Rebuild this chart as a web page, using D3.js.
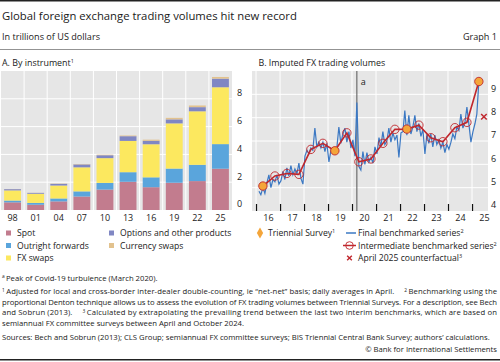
<!DOCTYPE html>
<html>
<head>
<meta charset="utf-8">
<style>
  body { margin: 0; background: #fff; }
  svg { display: block; font-family: 'Open Sans', sans-serif; fill: #1a1a1a; }
  .tick text { font-size: 9px; fill: #222; font-family: 'Open Sans', sans-serif; }
  .domain { display: none; }
  .grid line { stroke: #fff; stroke-width: 1; }
  .legend text { font-size: 8.6px; }
  .foot { font-size: 7.7px; }
</style>
</head>
<body>
<svg width="500" height="362"></svg>
<script src="https://d3js.org/d3.v7.min.js"></script>
<script>
// ---- panel A data: Triennial Survey, trillions of USD
const years = ["98", "01", "04", "07", "10", "13", "16", "19", "22", "25"];
const spot = [0.55, 0.38, 0.62, 0.97, 1.47, 2.03, 1.64, 1.96, 2.08, 2.97];
const outright = [0.13, 0.13, 0.21, 0.37, 0.48, 0.69, 0.71, 1.02, 1.17, 1.77];
const fxSwaps = [0.73, 0.66, 0.93, 1.73, 1.78, 2.25, 2.38, 3.25, 3.85, 4.09];
const options = [0.09, 0.06, 0.12, 0.21, 0.21, 0.34, 0.25, 0.29, 0.30, 0.62];
const currencySwaps = [0.01, 0.01, 0.02, 0.03, 0.04, 0.05, 0.08, 0.11, 0.12, 0.12];
const yTicksA = [0, 2, 4, 6, 8];

// ---- panel B data
// final benchmarked series, monthly from Feb 2016 to Apr 2025
const finalStart = [2016, 1];
const finalSeries = [
  4.85, 4.70, 5.00, 4.75, 5.20, 5.55, 5.00, 5.35, 5.25, 5.55, 5.15,
  5.30, 5.70, 5.35, 5.85, 5.50, 5.95, 5.55, 5.80, 5.60, 6.05, 5.40, 5.15,
  6.35, 6.60, 6.45, 6.70, 6.60, 7.55, 6.75, 6.95, 6.70, 6.95, 6.55, 6.90,
  6.10, 6.60, 6.50, 6.45, 6.70, 7.60, 6.90, 7.30, 7.55, 6.95, 7.40, 6.70,
  7.05, 6.35, 8.65, 5.90, 5.75, 6.55, 6.00, 6.50, 6.10, 6.30, 6.05, 6.75,
  6.45, 7.15, 6.75, 7.40, 6.85, 7.00, 7.55, 6.95, 7.35, 7.05, 7.25, 6.30,
  7.35, 7.40, 8.30, 7.25, 8.10, 7.30, 7.60, 8.10, 7.40, 7.75, 7.20, 7.50,
  6.45, 7.30, 6.90, 7.30, 6.75, 7.25, 6.85, 7.05, 6.70, 6.95, 6.50, 6.85,
  6.65, 6.95, 7.30, 7.10, 7.60, 7.45, 8.15, 7.55, 7.80, 8.45, 7.70, 6.95,
  7.40, 7.75, 8.15, 9.55
];
// intermediate benchmarked series, April and October from Apr 2016 to Apr 2025
const interimStart = [2016, 3];
const interimSeries = [5.07, 5.50, 5.61, 5.57, 6.64, 6.90, 6.58, 7.35, 6.11, 6.23,
  6.90, 7.50, 7.51, 7.68, 7.14, 6.97, 7.57, 7.80, 9.55];
const triennialYears = [2016, 2019, 2022, 2025];
const triennialValues = [5.07, 6.58, 7.51, 9.55];
const counterfactual = { date: new Date(2025, 6, 1), value: 8.04 };
const covidDate = new Date(2020, 2, 15);
const yTicksB = [4, 5, 6, 7, 8, 9];
const xYearsB = d3.range(2016, 2026);

const svg = d3.select("svg");

// ---- header
svg.append("rect").attr("x", 0).attr("y", 0).attr("width", 500).attr("height", 1.5).attr("fill", "#222");
svg.append("text").attr("x", 2).attr("y", 20).style("font-size", "11.3px")
  .text("Global foreign exchange trading volumes hit new record");
svg.append("text").attr("x", 2).attr("y", 40).style("font-size", "9.1px").text("In trillions of US dollars");
svg.append("text").attr("x", 497).attr("y", 40).attr("text-anchor", "end").style("font-size", "9.1px").text("Graph 1");
svg.append("line").attr("x1", 0).attr("x2", 500).attr("y1", 49.5).attr("y2", 49.5)
  .style("stroke", "#777").style("stroke-width", 0.8);

let tA = svg.append("text").attr("x", 2).attr("y", 66).style("font-size", "8.9px");
tA.append("tspan").text("A. By instrument");
tA.append("tspan").attr("dy", -3).style("font-size", "5.5px").text("1");
svg.append("text").attr("x", 258.5).attr("y", 66).style("font-size", "8.9px").text("B. Imputed FX trading volumes");

// ================= panel A
const pa = { left: 1, right: 232, top: 71, bottom: 210 };
const xA = d3.scaleBand().domain(years).range([pa.left, pa.right]).paddingInner(0.27).paddingOuter(0.135);
const yA = d3.scaleLinear().domain([0, 10]).range([pa.bottom, pa.top]);

svg.append("rect").attr("x", pa.left).attr("y", pa.top).attr("width", pa.right - pa.left)
  .attr("height", pa.bottom - pa.top).attr("fill", "#e6e6e6");

let gridA = svg.append("g").attr("class", "grid");
gridA.selectAll(".h").data(yTicksA.slice(1)).join("line")
  .attr("x1", pa.left).attr("x2", pa.right).attr("y1", d => yA(d)).attr("y2", d => yA(d));
gridA.selectAll(".v").data(years.slice(1)).join("line")
  .attr("x1", d => xA(d) - xA.step() * 0.135).attr("x2", d => xA(d) - xA.step() * 0.135)
  .attr("y1", pa.top).attr("y2", pa.bottom);

const keysA = ["spot", "outright", "fxSwaps", "options", "currencySwaps"];
const colorsA = {
  spot: "#c27c8e", outright: "#5aa5dc", fxSwaps: "#fce85f",
  options: "#8087c3", currencySwaps: "#e2c28e"
};
const tableA = years.map((y, i) => ({
  year: y, spot: spot[i], outright: outright[i], fxSwaps: fxSwaps[i],
  options: options[i], currencySwaps: currencySwaps[i]
}));
const stacked = d3.stack().keys(keysA)(tableA);

svg.append("g").selectAll("g").data(stacked).join("g")
  .attr("fill", d => colorsA[d.key])
  .selectAll("rect").data(d => d).join("rect")
  .attr("x", d => xA(d.data.year))
  .attr("width", xA.bandwidth())
  .attr("y", d => yA(d[1]))
  .attr("height", d => yA(d[0]) - yA(d[1]));

svg.append("g").attr("transform", `translate(0,${pa.bottom})`)
  .call(d3.axisBottom(xA).tickSize(0).tickPadding(5));

svg.append("g").attr("transform", `translate(${pa.right},0)`)
  .call(d3.axisRight(yA).tickValues(yTicksA).tickFormat(d3.format("d")).tickSize(0).tickPadding(5))
  .selectAll("text").attr("dy", "-0.35em");

// legend A
const legA = svg.append("g").attr("class", "legend");
const itemsA = [
  ["spot", "Spot", 6, 233], ["outright", "Outright forwards", 6, 245.5], ["fxSwaps", "FX swaps", 6, 258],
  ["options", "Options and other products", 109, 233], ["currencySwaps", "Currency swaps", 109, 245.5]
];
itemsA.forEach(([k, label, x, y]) => {
  legA.append("rect").attr("x", x).attr("y", y - 2.5).attr("width", 5).attr("height", 5).attr("fill", colorsA[k]);
  legA.append("text").attr("x", x + 11).attr("y", y + 3).text(label);
});

// ================= panel B
const pb = { left: 252, right: 488, top: 71, bottom: 211 };
const xB = d3.scaleTime().domain([new Date(2015, 10, 1), new Date(2025, 8, 1)]).range([pb.left, pb.right]);
const yB = d3.scaleLinear().domain([4, 10]).range([pb.bottom, pb.top]);

svg.append("rect").attr("x", pb.left).attr("y", pb.top).attr("width", pb.right - pb.left)
  .attr("height", pb.bottom - pb.top).attr("fill", "#e6e6e6");

let gridB = svg.append("g").attr("class", "grid");
gridB.selectAll(".h").data(yTicksB.slice(1)).join("line")
  .attr("x1", pb.left).attr("x2", pb.right).attr("y1", d => yB(d)).attr("y2", d => yB(d));
gridB.selectAll(".v").data(xYearsB).join("line")
  .attr("x1", d => xB(new Date(d, 0, 1))).attr("x2", d => xB(new Date(d, 0, 1)))
  .attr("y1", pb.top).attr("y2", pb.bottom);

// year boundary ticks
svg.append("g").attr("transform", `translate(0,${pb.bottom})`)
  .call(d3.axisBottom(xB).tickValues(xYearsB.map(d => new Date(d, 0, 1))).tickSizeInner(-7).tickSizeOuter(0).tickFormat(""))
  .selectAll("line").style("stroke", "#111").style("stroke-width", 1.2);
// year labels at mid-year
svg.append("g").attr("transform", `translate(0,${pb.bottom})`)
  .call(d3.axisBottom(xB).tickValues(xYearsB.map(d => new Date(d, 6, 1))).tickSize(0).tickPadding(4)
    .tickFormat(d3.timeFormat("%y")));

svg.append("g").attr("transform", `translate(${pb.right},0)`)
  .call(d3.axisRight(yB).tickValues(yTicksB).tickFormat(d3.format("d")).tickSize(0).tickPadding(3))
  .selectAll("text").attr("dy", "-0.35em");

// covid line
svg.append("line").attr("x1", xB(covidDate)).attr("x2", xB(covidDate))
  .attr("y1", pb.top).attr("y2", pb.bottom).style("stroke", "#555").style("stroke-width", 1);
svg.append("text").attr("x", xB(covidDate) + 4).attr("y", 85).style("font-size", "9px").text("a");

const finalData = finalSeries.map((v, i) => ({ date: new Date(finalStart[0], finalStart[1] + i, 15), value: v }));
const interimData = interimSeries.map((v, i) => ({ date: new Date(interimStart[0], interimStart[1] + 6 * i, 15), value: v }));
const triennialData = triennialYears.map((y, i) => ({ date: new Date(y, 3, 15), value: triennialValues[i] }));

const line = d3.line().x(d => xB(d.date)).y(d => yB(d.value));

const blue = "#3b78c3", red = "#c0272d", orange = "#f4a53a";

svg.append("path").attr("d", line(finalData)).attr("fill", "none")
  .style("stroke", blue).style("stroke-width", 1.2);
svg.append("path").attr("d", line(interimData)).attr("fill", "none")
  .style("stroke", red).style("stroke-width", 1.6);
svg.append("g").selectAll("circle").data(triennialData).join("circle")
  .attr("cx", d => xB(d.date)).attr("cy", d => yB(d.value)).attr("r", 4.2).attr("fill", orange);
svg.append("g").selectAll("circle").data(interimData).join("circle")
  .attr("cx", d => xB(d.date)).attr("cy", d => yB(d.value)).attr("r", 4.2)
  .attr("fill", "none").style("stroke", red).style("stroke-width", 0.9);
svg.append("path").attr("d", d3.symbol(d3.symbolX, 22)())
  .attr("transform", `translate(${xB(counterfactual.date)},${yB(counterfactual.value)})`)
  .attr("fill", "none").style("stroke", red).style("stroke-width", 1.5);

// legend B
const legB = svg.append("g").attr("class", "legend");
legB.append("path").attr("d", d3.symbol(d3.symbolDiamond, 34)()).attr("transform", "translate(260,233)").attr("fill", orange);
let l1 = legB.append("text").attr("x", 268).attr("y", 236);
l1.append("tspan").text("Triennial Survey");
l1.append("tspan").attr("dy", -3).style("font-size", "5.5px").text("1");
legB.append("line").attr("x1", 346).attr("x2", 356).attr("y1", 233).attr("y2", 233).style("stroke", blue).style("stroke-width", 1.5);
let l2 = legB.append("text").attr("x", 358).attr("y", 236);
l2.append("tspan").text("Final benchmarked series");
l2.append("tspan").attr("dy", -3).style("font-size", "5.5px").text("2");
legB.append("line").attr("x1", 343).attr("x2", 356).attr("y1", 245.5).attr("y2", 245.5).style("stroke", red).style("stroke-width", 1.5);
legB.append("circle").attr("cx", 349.5).attr("cy", 245.5).attr("r", 3.8).attr("fill", "none").style("stroke", red).style("stroke-width", 0.9);
let l3 = legB.append("text").attr("x", 358).attr("y", 248.5);
l3.append("tspan").text("Intermediate benchmarked series");
l3.append("tspan").attr("dy", -3).style("font-size", "5.5px").text("2");
legB.append("path").attr("d", d3.symbol(d3.symbolX, 16)()).attr("transform", "translate(349.5,258)")
  .attr("fill", "none").style("stroke", red).style("stroke-width", 1.4);
let l4 = legB.append("text").attr("x", 358).attr("y", 261);
l4.append("tspan").text("April 2025 counterfactual");
l4.append("tspan").attr("dy", -3).style("font-size", "5.5px").text("3");

// ---- footnotes
function foot(y, parts, justify) {
  let t = svg.append("text").attr("class", "foot").attr("x", 2).attr("y", y);
  parts.forEach(p => {
    if (p.startsWith("^")) {
      t.append("tspan").attr("dy", -2.5).style("font-size", "4.8px").text(p.slice(1));
      t.append("tspan").attr("dy", 2.5).text("\u2009");
    } else {
      t.append("tspan").text(p);
    }
  });
  if (justify) t.attr("textLength", 495).attr("lengthAdjust", "spacing");
  return t;
}
foot(280.5, ["^a", "Peak of Covid-19 turbulence (March 2020)."], false);
foot(294, ["^1", "Adjusted for local and cross-border inter-dealer double-counting, ie \u201cnet-net\u201d basis; daily averages in April.\u2003 ", "^2", "Benchmarking using the"], true);
foot(304.5, ["proportional Denton technique allows us to assess the evolution of FX trading volumes between Triennial Surveys. For a description, see Bech"], true);
foot(315, ["and Sobrun (2013).\u2003 ", "^3", "Calculated by extrapolating the prevailing trend between the last two interim benchmarks, which are based on"], true);
foot(325.5, ["semiannual FX committee surveys between April and October 2024."], false);
foot(340, ["Sources: Bech and Sobrun (2013); CLS Group; semiannual FX committee surveys; BIS Triennial Central Bank Survey; authors\u2019 calculations."], false);
svg.append("text").attr("class", "foot").attr("x", 497).attr("y", 351.5).attr("text-anchor", "end")
  .text("\u00a9 Bank for International Settlements");
svg.append("rect").attr("x", 0).attr("y", 359).attr("width", 500).attr("height", 1.5).attr("fill", "#222");
</script>
</body>
</html>
